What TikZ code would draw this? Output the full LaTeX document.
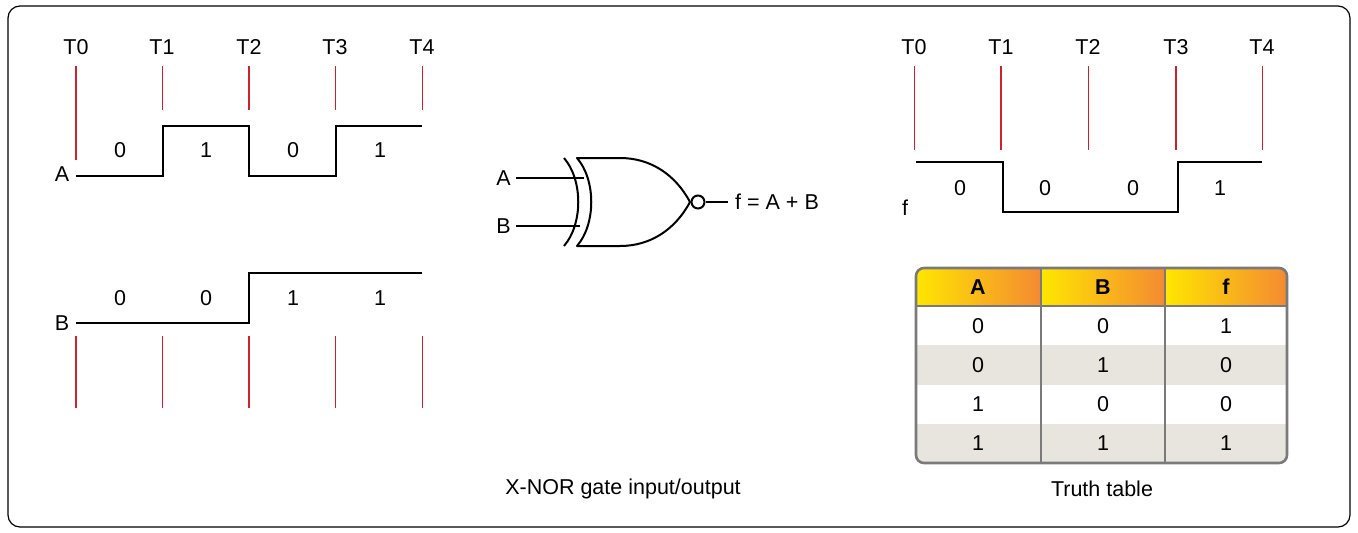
\documentclass[tikz,border=0pt]{standalone}
\usepackage{fontspec}
\setmainfont{Liberation Sans}
\usetikzlibrary{calc, positioning}
\definecolor{tick}{HTML}{D0202A}
\definecolor{rowgrey}{HTML}{E8E5DF}
\definecolor{headyellow}{HTML}{FFE600}
\definecolor{headorange}{HTML}{F48A32}
\definecolor{tablegrey}{HTML}{7A7A7A}
\def\lw{2pt}
\tikzset{
    txt/.style = {font=\fontsize{21.5}{24}\selectfont, inner sep=0pt},
    boldtxt/.style = {txt, font=\fontsize{21.5}{24}\selectfont\bfseries},
    wave/.style = {line width=2.6pt},
    thinmark/.style = {draw=tick, line width=0.7pt},
    thickmark/.style = {draw=tick, line width=1.6pt},
    head/.style = {left color=headyellow, right color=headorange}
}
\begin{document}
\begin{tikzpicture}[x=1pt, y=-1pt]
    \useasboundingbox (0,0) rectangle (1358,533);
    \draw[line width=1.2pt, rounded corners=12pt] (8,6) rectangle (1350,527);

    % Timing of the inputs
    \foreach \t/\x in {0/76, 1/162, 2/249, 3/335, 4/422}{
        \node[txt] (lt\t) at (\x,47) {T\t};
    }
    \draw[thickmark] (76,66) -- (76,160);
    \draw[thickmark] (249,66) -- (249,110);
    \foreach \x in {162, 335, 422}{
        \draw[thinmark] (\x,66) -- (\x,110);
    }
    \draw[wave] (76,176) -- (163,176) -- (163,126) -- (249,126) -- (249,176)
        -- (336,176) -- (336,126) -- (422,126);
    \node[txt] (sigA) at (62,174) {A};
    \foreach \v/\x in {0/120, 1/206, 0/293, 1/380}{
        \node[txt] at (\x,150) {\v};
    }
    \draw[wave] (76,323) -- (249,323) -- (249,273) -- (422,273);
    \node[txt] (sigB) at (62,323) {B};
    \foreach \v/\x in {0/120, 0/206, 1/293, 1/380}{
        \node[txt] at (\x,298) {\v};
    }
    \foreach \x in {76, 249}{
        \draw[thickmark] (\x,336) -- (\x,408);
    }
    \foreach \x in {162, 335, 422}{
        \draw[thinmark] (\x,336) -- (\x,408);
    }

    % The gate
    \node[txt, anchor=east] (inA) at (511,178) {A};
    \node[txt, anchor=east] (inB) at (511,226) {B};
    \draw[line width=\lw] (inA.east) ++(5,0) -- (584,178);
    \draw[line width=1.1pt] (inB.east) ++(5,0) -- (580,226);
    \draw[line width=\lw, line join=round] (577,158) .. controls (596,180) and (596,224) .. (577,246)
        -- (620,246) .. controls (650,246) and (675,230) .. (690,202)
        .. controls (675,174) and (650,158) .. (620,158) -- cycle;
    \draw[line width=\lw] (564,158) .. controls (583,180) and (583,224) .. (564,246);
    \node[draw, circle, line width=\lw, minimum size=13pt, inner sep=0pt] (bubble) at (698,202) {};
    \node[txt, anchor=west] (out) at (735,202) {f = A + B};
    \draw[line width=\lw] (bubble.east) -- ([xshift=-7pt] out.west);

    % Timing of the output
    \foreach \t/\x in {0/914, 1/1001, 2/1088, 3/1176, 4/1262}{
        \node[txt] (rt\t) at (\x,47) {T\t};
    }
    \foreach \x in {1001, 1176}{
        \draw[thickmark] (\x,66) -- (\x,150);
    }
    \foreach \x in {914, 1088, 1262}{
        \draw[thinmark] (\x,66) -- (\x,150);
    }
    \draw[wave] (916,162) -- (1003,162) -- (1003,212) -- (1178,212) -- (1178,162) -- (1262,162);
    \node[txt] (sigf) at (905,208) {f};
    \foreach \v/\x in {0/960, 0/1045, 0/1133, 1/1220}{
        \node[txt] at (\x,188) {\v};
    }

    % Truth table
    \begin{scope}
        \clip[rounded corners=8pt] (916,268) rectangle (1287,463);
        \fill[white] (916,268) rectangle (1287,463);
        \fill[head] (916,268) rectangle (1041,306);
        \fill[head] (1041,268) rectangle (1165,306);
        \fill[head] (1165,268) rectangle (1287,306);
        \fill[rowgrey] (916,345) rectangle (1287,385);
        \fill[rowgrey] (916,424) rectangle (1287,463);
    \end{scope}
    \draw[tablegrey, line width=2pt] (916,306) -- (1287,306);
    \draw[tablegrey, line width=2pt] (1041,268) -- (1041,463);
    \draw[tablegrey, line width=2pt] (1165,268) -- (1165,463);
    \draw[tablegrey, line width=2.6pt, rounded corners=8pt] (916,268) rectangle (1287,463);
    \node[boldtxt] (hA) at (978,287) {A};
    \node[boldtxt] (hB) at (1103,287) {B};
    \node[boldtxt] (hf) at (1226,287) {f};
    \foreach \a/\b/\f [count=\i] in {0/0/1, 0/1/0, 1/0/0, 1/1/1}{
        \node[txt] at (978,{286.5+39.25*\i}) {\a};
        \node[txt] at (1103,{286.5+39.25*\i}) {\b};
        \node[txt] at (1226,{286.5+39.25*\i}) {\f};
    }

    % Captions
    \node[txt] (capgate) at (623,489) {X-NOR gate input/output};
    \node[txt] (captable) at (1102,489) {Truth table};
\end{tikzpicture}
\end{document}
